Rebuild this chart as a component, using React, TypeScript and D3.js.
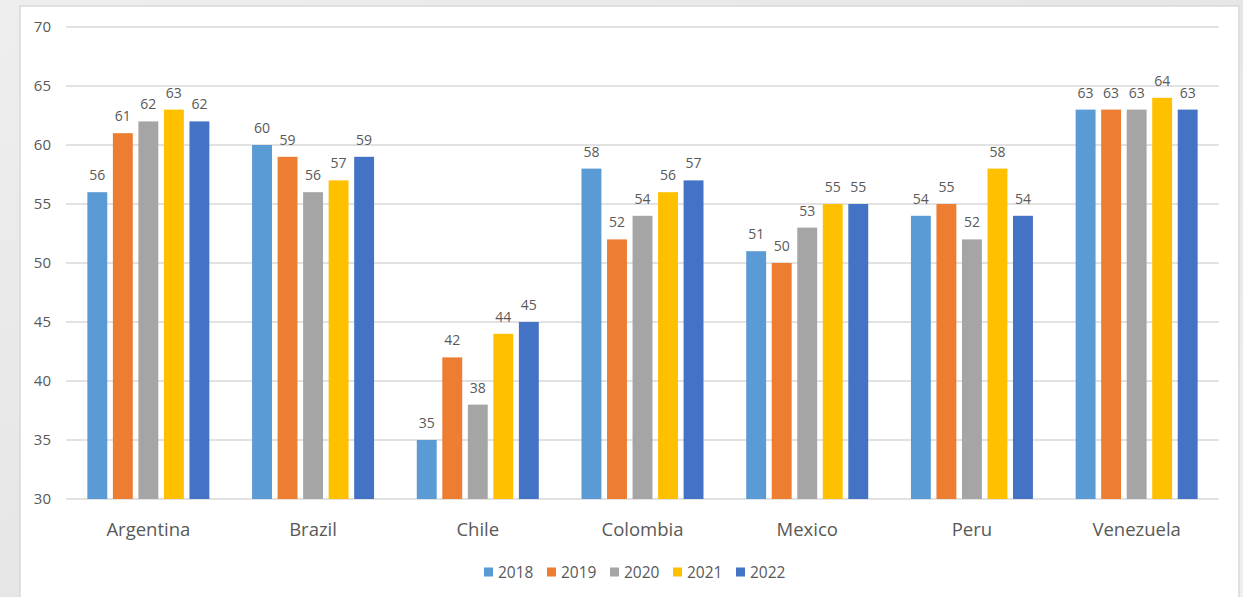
import React from "react";
import * as d3 from "d3";

const categories = ["Argentina", "Brazil", "Chile", "Colombia", "Mexico", "Peru", "Venezuela"];
const years = ["2018", "2019", "2020", "2021", "2022"];
const v2018 = [56, 60, 35, 58, 51, 54, 63];
const v2019 = [61, 59, 42, 52, 50, 55, 63];
const v2020 = [62, 56, 38, 54, 53, 52, 63];
const v2021 = [63, 57, 44, 56, 55, 58, 64];
const v2022 = [62, 59, 45, 57, 55, 54, 63];
const yTicks = [30, 35, 40, 45, 50, 55, 60, 65, 70];
const colors = ["#5B9BD5", "#ED7D31", "#A5A5A5", "#FFC000", "#4472C4"];

const series = [v2018, v2019, v2020, v2021, v2022];

export default function App() {
  const W = 1243, H = 597;
  const left = 66, right = 1219, top = 27, bottom = 499;
  const x = d3.scaleBand<string>().domain(categories).range([left, right]).paddingInner(0).paddingOuter(0);
  const y = d3.scaleLinear().domain([30, 70]).range([bottom, top]);
  const bw = x.bandwidth();
  const groupW = 122;
  const inner = d3.scaleBand<string>().domain(years).range([0, groupW]).paddingInner(0.22).paddingOuter(0);
  const font = "'Open Sans', sans-serif";
  const textColor = "#595959";

  const legendX0 = 484;
  const legendStep = 63;

  return (
    <div style={{ position: "fixed", left: 0, top: 0 }}>
      <svg width={W} height={H} style={{ display: "block" }}>
        <defs>
          <linearGradient id="bg" x1="0" x2="1" y1="0" y2="1">
            <stop offset="0" stopColor="#eeeeee" />
            <stop offset="0.5" stopColor="#e6e6e6" />
            <stop offset="1" stopColor="#efefef" />
          </linearGradient>
        </defs>
        <rect x={0} y={0} width={W} height={H} fill="url(#bg)" />
        <rect x={20} y={6} width={1219} height={600} fill="#ffffff" stroke="#d9d9d9" strokeWidth={1.5} />
        {yTicks.map((t) => (
          <g key={t}>
            <line x1={left} x2={right} y1={y(t)} y2={y(t)} stroke="#d9d9d9" strokeWidth={1.5} />
            <text x={51} y={y(t)} dy="0.36em" textAnchor="end" fontFamily={font} fontSize={15} fill={textColor}>
              {t}
            </text>
          </g>
        ))}
        {categories.map((c, ci) => {
          const gx = (x(c) as number) + (bw - groupW) / 2;
          return (
            <g key={c}>
              {series.map((s, si) => {
                const bx = gx + (inner(years[si]) as number);
                const by = y(s[ci]);
                return (
                  <g key={si}>
                    <rect x={bx} y={by} width={inner.bandwidth()} height={bottom - by} fill={colors[si]} />
                    <text x={bx + inner.bandwidth() / 2} y={by - 12} textAnchor="middle" fontFamily={font} fontSize={14} fill={textColor}>
                      {s[ci]}
                    </text>
                  </g>
                );
              })}
              <text x={(x(c) as number) + bw / 2} y={536} textAnchor="middle" fontFamily={font} fontSize={18.5} fill={textColor}>
                {c}
              </text>
            </g>
          );
        })}
        {years.map((yr, i) => (
          <g key={yr} transform={`translate(${legendX0 + i * legendStep},572)`}>
            <rect x={0} y={-4.5} width={9} height={9} fill={colors[i]} />
            <text x={14} y={0} dy="0.36em" fontFamily={font} fontSize={15.5} fill={textColor}>
              {yr}
            </text>
          </g>
        ))}
      </svg>
    </div>
  );
}
